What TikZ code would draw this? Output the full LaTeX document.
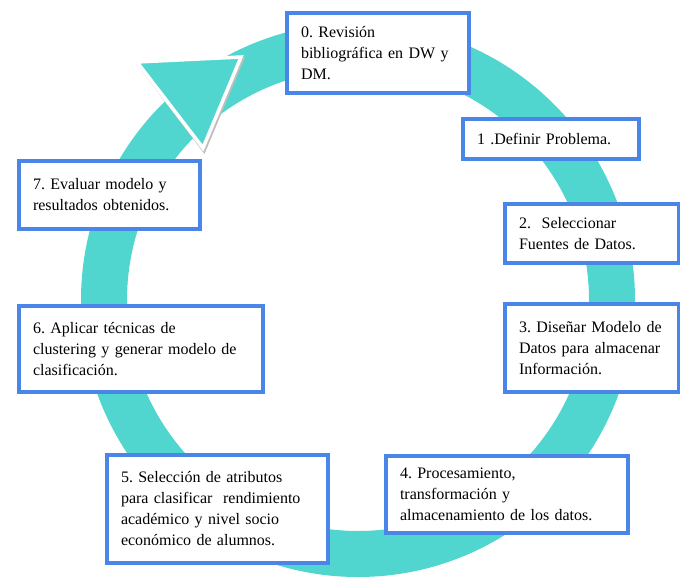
\documentclass[tikz,border=0pt]{standalone}
\usepackage{fontspec}
\setmainfont{Liberation Serif}
\frenchspacing

\definecolor{anillo}{RGB}{80,214,206}
\definecolor{borde}{RGB}{74,134,232}

\begin{document}
\begin{tikzpicture}[x=1pt, y=-1pt,
	paso/.style={rectangle, draw=borde, line width=4pt, fill=white, anchor=north west,
		align=left, inner xsep=14pt, font=\fontsize{16}{21}\selectfont}]

	\useasboundingbox (0,0) rectangle (680,587);

	% ring and arrow head
	\fill[anillo, even odd rule] (358,300) circle[radius=277pt] (358,300) circle[radius=231pt];
	\draw[black!25, line width=4pt, line join=miter] (139,64) -- (242,59) -- (204,150) -- cycle;
	\draw[white, line width=3.5pt, fill=anillo, line join=miter] (137,62) -- (241,57) -- (203,148) -- cycle;

	\node[paso, minimum width=182pt, minimum height=80pt, text width=154pt] (p0) at (285,11)
		{0. Revisión\\bibliográfica en DW y\\DM.};
	\node[paso, minimum width=176pt, minimum height=40pt, text width=148pt] (p1) at (461,117)
		{1 .Definir Problema.};
	\node[paso, minimum width=174pt, minimum height=59pt, text width=146pt] (p2) at (503,202)
		{2.\ \ Seleccionar\\Fuentes de Datos.};
	\node[paso, minimum width=174pt, minimum height=88pt, text width=146pt] (p3) at (503,302)
		{3. Diseñar Modelo de\\Datos para almacenar\\Información.};
	\node[paso, minimum width=242pt, minimum height=77pt, text width=214pt] (p4) at (384,454)
		{4. Procesamiento,\\transformación y\\almacenamiento de los datos.};
	\node[paso, minimum width=221pt, minimum height=108pt, text width=193pt] (p5) at (105,453)
		{5. Selección de atributos\\para clasificar\ \ rendimiento\\académico y nivel socio\\económico de alumnos.};
	\node[paso, minimum width=244pt, minimum height=86pt, text width=216pt] (p6) at (17,304)
		{6. Aplicar técnicas de\\clustering y generar modelo de\\clasificación.};
	\node[paso, minimum width=181pt, minimum height=68pt, text width=153pt] (p7) at (17,159)
		{7. Evaluar modelo y\\resultados obtenidos.\\[6pt]};
\end{tikzpicture}
\end{document}
